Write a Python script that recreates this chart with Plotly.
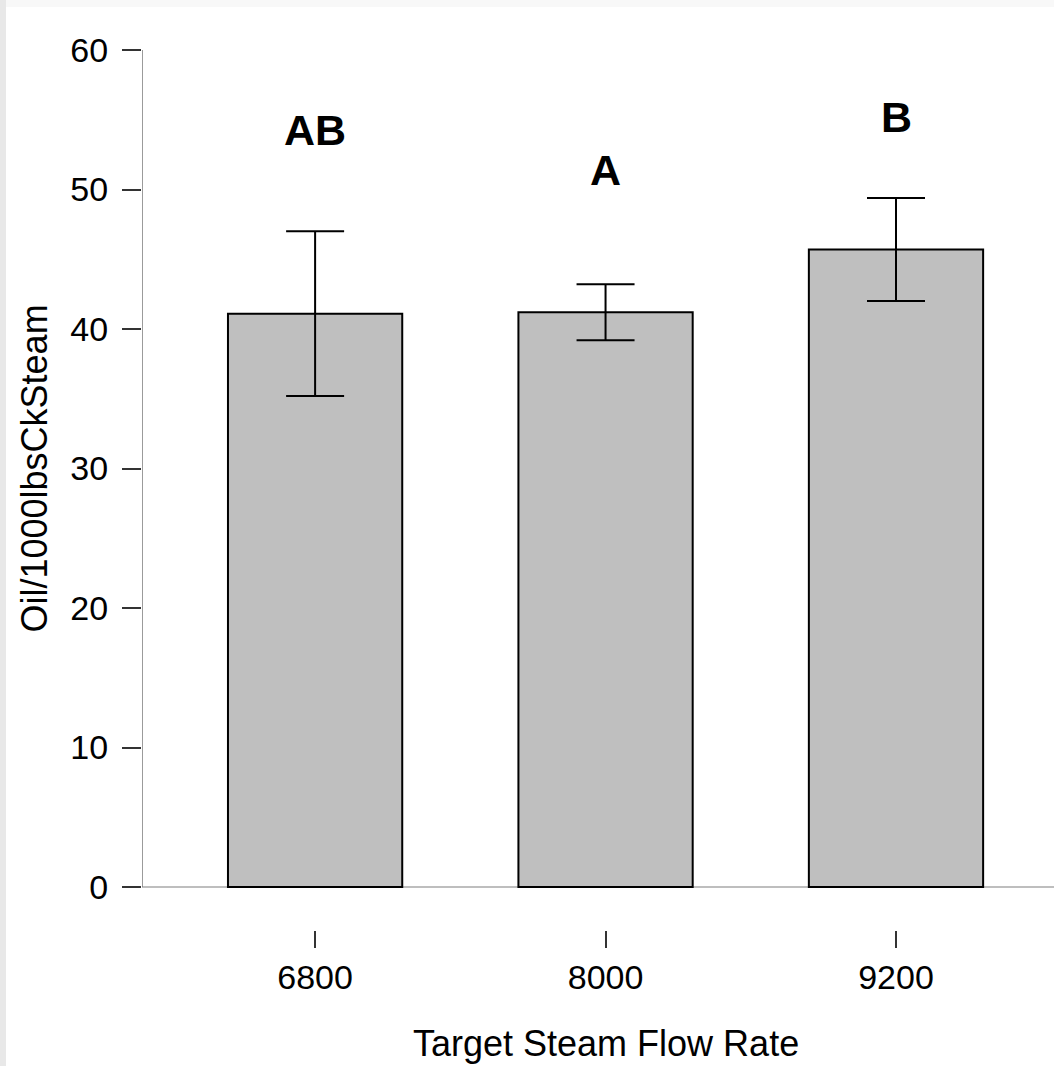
import plotly.graph_objects as go

# Oil recovered per 1000 lbs of cracking steam, by target steam flow rate
flow_rates = ["6800", "8000", "9200"]
oil_mean = [41.1, 41.2, 45.7]
oil_err = [5.9, 2.0, 3.7]
group_letters = ["AB", "A", "B"]
letter_y = [54.3, 51.4, 55.2]

xpos = list(range(len(flow_rates)))
FONT = "Liberation Sans, Arial, sans-serif"

fig = go.Figure()
fig.add_trace(go.Bar(
    x=xpos,
    y=oil_mean,
    width=0.6,
    marker=dict(color="#bfbfbf", line=dict(color="black", width=2)),
    error_y=dict(type="data", array=oil_err, visible=True,
                 color="black", thickness=2, width=29),
    showlegend=False,
))

for xi, txt, yy in zip(xpos, group_letters, letter_y):
    fig.add_annotation(x=xi, y=yy, text=f"<b>{txt}</b>", showarrow=False,
                       font=dict(family=FONT, size=43, color="black"),
                       xanchor="center", yanchor="middle")

# axis titles, centred on the bar span and on the 0-60 value range
fig.add_annotation(x=1, xref="x", y=0, yref="paper", yshift=-113,
                   text="Target Steam Flow Rate", showarrow=False,
                   font=dict(family=FONT, size=36, color="black"),
                   xanchor="center", yanchor="middle")
fig.add_annotation(x=0, xref="paper", xshift=-107, y=30, yref="y",
                   text="Oil/1000lbsCkSteam", textangle=-90, showarrow=False,
                   font=dict(family=FONT, size=36, color="black"),
                   xanchor="center", yanchor="middle")

# y axis spine from 0 to 60 and the baseline at zero
fig.add_shape(type="line", xref="x", yref="y", x0=-0.596, x1=-0.596, y0=0, y1=60,
              line=dict(color="#7a7a7a", width=1.5), layer="above")
fig.add_shape(type="line", xref="x", yref="y", x0=-0.596, x1=2.6, y0=0, y1=0,
              line=dict(color="#a8a8a8", width=1.5), layer="below")

# faint frame strips along the left and top edges
fig.add_shape(type="rect", xref="paper", yref="paper", x0=-142/912, x1=-136/912,
              y0=-136/880, y1=1 + 50/880, fillcolor="#e8e8e8", line_width=0, layer="below")
fig.add_shape(type="rect", xref="paper", yref="paper", x0=-136/912, x1=1,
              y0=1 + 43/880, y1=1 + 50/880, fillcolor="#f8f8f8", line_width=0, layer="below")

fig.update_xaxes(
    range=[-0.596, 2.544],
    tickmode="array", tickvals=xpos, ticktext=flow_rates,
    ticks="outside", ticklen=17, tickwidth=1.5, tickcolor="#333333",
    showline=False, showgrid=False, zeroline=False,
    tickfont=dict(family=FONT, size=34, color="black"),
)
fig.update_yaxes(
    range=[-3.08, 60],
    tickmode="array", tickvals=[0, 10, 20, 30, 40, 50, 60],
    ticks="outside", ticklen=19, tickwidth=1.5, tickcolor="#333333",
    showline=False, showgrid=False, zeroline=False,
    ticklabelstandoff=7,
    tickfont=dict(family=FONT, size=34, color="black"),
)

fig.update_layout(
    width=1054, height=1066,
    margin=dict(l=142, r=0, t=50, b=136),
    plot_bgcolor="white", paper_bgcolor="white",
    bargap=0.4,
)

fig.write_html("out.html")
